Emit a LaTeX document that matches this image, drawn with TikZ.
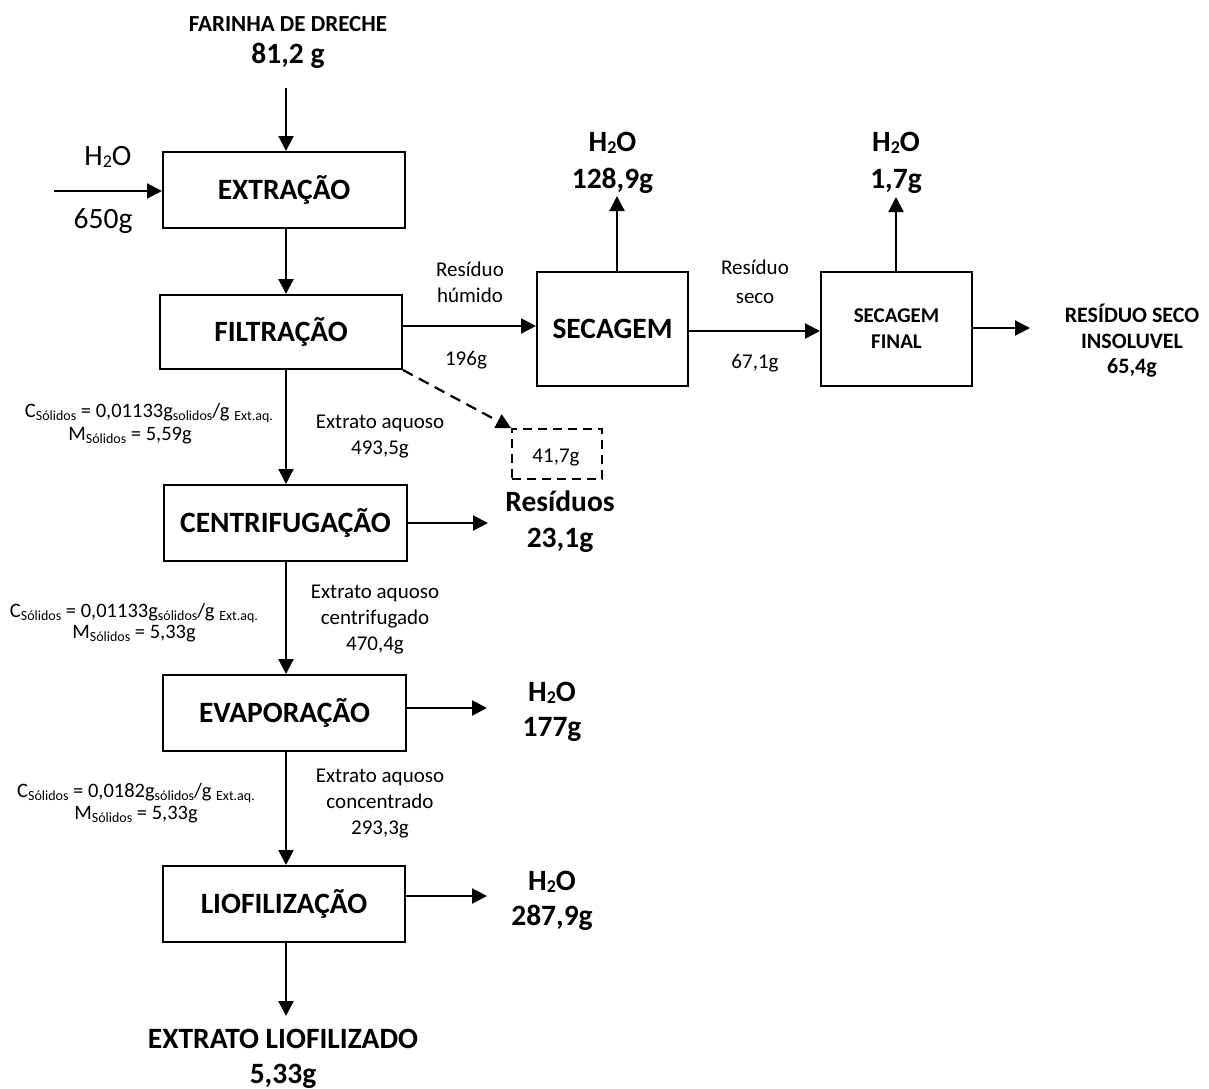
\documentclass[tikz,border=0pt]{standalone}
\usepackage{fontspec}
\setmainfont{Carlito}
\usetikzlibrary{arrows.meta}
\newcommand\fsm{\fontsize{21}{26}\selectfont}
\newcommand\fsmb{\fontsize{22}{26}\selectfont}
\newcommand\ftop{\fontsize{23}{28}\selectfont}
\newcommand\fbig{\fontsize{29.5}{36}\selectfont}
\newcommand\fann{\fontsize{20.5}{24}\selectfont}
\newcommand\annsub[1]{\raisebox{-3pt}{\fontsize{14}{14}\selectfont #1}}
\newcommand\hsub[1]{\raisebox{-2.5pt}{\fontsize{18}{18}\selectfont #1}}
\begin{document}
\begin{tikzpicture}[x=1pt,y=-1pt,
  box/.style={draw, line width=2pt, inner sep=0pt, font={\fbig\bfseries}, text height=19pt, text depth=0pt},
  boxb/.style={draw, line width=2pt, inner sep=0pt, font={\fsm\bfseries}, align=center},
  dbox/.style={draw, line width=1.6pt, dash pattern=on 9pt off 6pt, inner sep=0pt},
  arr/.style={-{Triangle[length=15pt,width=15pt]}, line width=2.2pt},
  darr/.style={-{Triangle[length=15pt,width=15pt]}, line width=2.2pt, dash pattern=on 11pt off 7pt},
  lbl/.style={font=\fsm, anchor=base, inner sep=0pt},
  big/.style={font={\fbig\bfseries}, anchor=base, inner sep=0pt},
  bigr/.style={font=\fbig, anchor=base, inner sep=0pt},
  smb/.style={font={\fsmb\bfseries}, anchor=base, inner sep=0pt},
  topb/.style={font={\ftop\bfseries}, anchor=base, inner sep=0pt},
  ann/.style={font=\fann, anchor=base, inner sep=0pt}]
\useasboundingbox (0,0) rectangle (1209,1088);

% boxes
\node[box, minimum width=242pt, minimum height=76pt] (ext) at (284,190) {EXTRAÇÃO};
\node[box, minimum width=242pt, minimum height=74pt] (fil) at (281,332) {FILTRAÇÃO};
\node[box, minimum width=243pt, minimum height=76pt] (cen) at (285.5,523) {CENTRIFUGAÇÃO};
\node[box, minimum width=243pt, minimum height=76pt] (eva) at (284.5,713) {EVAPORAÇÃO};
\node[box, minimum width=242pt, minimum height=76pt] (lio) at (284,904) {LIOFILIZAÇÃO};
\node[box, minimum width=151pt, minimum height=114pt] (sec) at (612.5,329) {SECAGEM};
\node[boxb, minimum width=151pt, minimum height=114pt] (sfin) at (896.5,329) {SECAGEM\\FINAL};
\node[dbox, minimum width=90pt, minimum height=50pt] (res) at (557,454) {};
\node[lbl] (res41) at (556,462) {41,7g};

% coordinates
\coordinate (colx) at (286,0);
\coordinate (farin) at (286,88);
\coordinate (win) at (54,191);
\coordinate (fs) at (0,326);
\coordinate (ss) at (0,331);
\coordinate (cr) at (488,523);
\coordinate (er) at (487,708);
\coordinate (lr) at (487,896);
\coordinate (lout) at (286,1016);
\coordinate (su) at (617,196);
\coordinate (fu) at (896,197);
\coordinate (so) at (1030,328);

% connectors
\draw[arr] (farin) -- (farin |- ext.north);
\draw[arr] (win) -- (win -| ext.west);
\draw[arr] (ext.south -| colx) -- (fil.north -| colx);
\draw[arr] (fil.east |- fs) -- (sec.west |- fs);
\draw[darr] (fil.south east) -- (res.north west);
\draw[arr] (fil.south -| colx) -- (cen.north -| colx);
\draw[arr] (cen.east |- cr) -- (cr);
\draw[arr] (cen.south -| colx) -- (eva.north -| colx);
\draw[arr] (eva.east |- er) -- (er);
\draw[arr] (eva.south -| colx) -- (lio.north -| colx);
\draw[arr] (lio.east |- lr) -- (lr);
\draw[arr] (lio.south -| colx) -- (lout);
\draw[arr] (sec.north -| su) -- (su);
\draw[arr] (sec.east |- ss) -- (sfin.west |- ss);
\draw[arr] (sfin.north -| fu) -- (fu);
\draw[arr] (sfin.east |- so) -- (so);

% top input
\node[topb] (far1) at (288,31) {FARINHA DE DRECHE};
\node[big] (far2) at (288,63) {81,2 g};
\node[bigr] (w1) at (108,165) {H\hsub{2}O};
\node[bigr] (w2) at (103,228) {650g};

% labels filtration -> secagem
\node[lbl] (rh1) at (470,276) {Resíduo};
\node[lbl] (rh2) at (470,302) {húmido};
\node[lbl] (rh3) at (466,365) {196g};
\node[big] (sw1) at (612.5,151) {H\hsub{2}O};
\node[big] (sw2) at (612.5,188) {128,9g};
\node[lbl] (rs1) at (755,274) {Resíduo};
\node[lbl] (rs2) at (755,303) {seco};
\node[lbl] (rs3) at (755,368) {67,1g};
\node[big] (fw1) at (896,151) {H\hsub{2}O};
\node[big] (fw2) at (896,188) {1,7g};
\node[smb] (ri1) at (1132,322) {RESÍDUO SECO};
\node[smb] (ri2) at (1132,348) {INSOLUVEL};
\node[smb] (ri3) at (1132,373) {65,4g};

% main column labels
\node[lbl] (ea1) at (380,428) {Extrato aquoso};
\node[lbl] (ea2) at (380,454) {493,5g};
\node[big] (rd1) at (560,511) {Resíduos};
\node[big] (rd2) at (560,547) {23,1g};
\node[lbl] (ec1) at (375,598) {Extrato aquoso};
\node[lbl] (ec2) at (375,624) {centrifugado};
\node[lbl] (ec3) at (375,650) {470,4g};
\node[big] (ew1) at (552,701) {H\hsub{2}O};
\node[big] (ew2) at (552,736) {177g};
\node[lbl] (ek1) at (380,782) {Extrato aquoso};
\node[lbl] (ek2) at (380,808) {concentrado};
\node[lbl] (ek3) at (380,834) {293,3g};
\node[big] (lw1) at (552,890) {H\hsub{2}O};
\node[big] (lw2) at (552,925) {287,9g};
\node[big] (out1) at (283,1048) {EXTRATO LIOFILIZADO};
\node[big] (out2) at (283,1083) {5,33g};

% annotations
\node[ann] (a1c) at (149,417) {C\annsub{Sólidos} = 0,01133g\annsub{solidos}/g \annsub{Ext.aq.}};
\node[ann] (a1m) at (130,440) {M\annsub{Sólidos} = 5,59g};
\node[ann] (a2c) at (134,617) {C\annsub{Sólidos} = 0,01133g\annsub{sólidos}/g \annsub{Ext.aq.}};
\node[ann] (a2m) at (134,638) {M\annsub{Sólidos} = 5,33g};
\node[ann] (a3c) at (136,797) {C\annsub{Sólidos} = 0,0182g\annsub{sólidos}/g \annsub{Ext.aq.}};
\node[ann] (a3m) at (136,819) {M\annsub{Sólidos} = 5,33g};
\end{tikzpicture}
\end{document}
